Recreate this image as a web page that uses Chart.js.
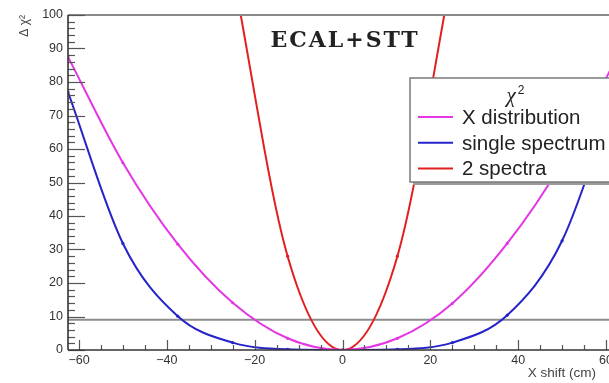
<!DOCTYPE html>
<html lang="en">
<head>
<meta charset="UTF-8">
<title>Delta chi2 vs X shift</title>
<script src="https://cdn.jsdelivr.net/npm/chart.js"></script>
<style>
  html, body { margin: 0; padding: 0; background: #fff; overflow: hidden; }
  #wrap { width: 622px; height: 383px; }
</style>
</head>
<body>
<div id="wrap"><canvas id="chi2Chart" width="622" height="383"></canvas></div>
<script>
  // values (x shift in cm, delta chi2)
  const xShift = [-62.5, -50, -37.5, -25, -12.5, 0, 12.5, 25, 37.5, 50, 62.5];
  const xDistribution = [87.5, 55.9, 31.6, 14.1, 3.5, 0, 3.5, 13.9, 31.8, 56.0, 87.5];
  const singleSpectrum = [77.0, 31.8, 10.1, 2.2, 0.2, 0, 0.2, 2.2, 10.4, 32.6, 78.0];
  const twoSpectraX = [-25, -12.5, 0, 12.5, 25];
  const twoSpectra = [113, 28.0, 0, 28.0, 113];
  const thresholdX = [-62.5, 62.5];
  const thresholdY = [9, 9];

  const xTicks = [-60, -40, -20, 0, 20, 40, 60];
  const yTicks = [0, 10, 20, 30, 40, 50, 60, 70, 80, 90, 100];
  const seriesNames = ['X distribution', 'single spectrum', '2 spectra'];
  const seriesColors = ['#e436e4', '#2424c8', '#e21f1f'];

  const toPoints = (xs, ys) => xs.map((v, i) => ({ x: v, y: ys[i] }));
  const tickFont = { family: '"Liberation Sans", Arial, sans-serif', size: 12.5 };

  // ROOT-like decorations: inward ticks, frame, legend box, titles
  const rootStyle = {
    id: 'rootStyle',
    afterDatasetsDraw(chart) {
      const { ctx, chartArea: a, scales: { x, y } } = chart;
      const line = (x1, y1, x2, y2) => { ctx.beginPath(); ctx.moveTo(x1, y1); ctx.lineTo(x2, y2); ctx.stroke(); };
      ctx.save();

      ctx.strokeStyle = '#8a8a8a';
      ctx.lineWidth = 2;
      line(a.left, a.top, a.right, a.top);

      ctx.strokeStyle = '#555';
      ctx.lineWidth = 1.2;
      for (let v = 0; v <= 100; v += 2) {
        const py = Math.round(y.getPixelForValue(v)) + 0.5;
        line(a.left, py, a.left + (v % 10 === 0 ? 17 : 7), py);
      }
      for (let v = -60; v <= 60; v += 5) {
        const px = Math.round(x.getPixelForValue(v)) + 0.5;
        line(px, a.bottom, px, a.bottom - (v % 20 === 0 ? 10 : 5));
      }

      ctx.strokeStyle = '#333';
      ctx.lineWidth = 1.6;
      line(a.left, a.top, a.left, a.bottom);
      line(a.left, a.bottom, a.right, a.bottom);

      // legend
      const bx = 410, by = 78, bw = 210, bh = 104;
      ctx.fillStyle = '#9a9a9a';
      ctx.fillRect(bx + 3, by + 3, bw, bh);
      ctx.fillStyle = '#fff';
      ctx.fillRect(bx, by, bw, bh);
      ctx.strokeStyle = '#7a7a7a';
      ctx.lineWidth = 1.5;
      ctx.strokeRect(bx, by, bw, bh);

      ctx.fillStyle = '#222';
      ctx.textBaseline = 'alphabetic';
      ctx.textAlign = 'center';
      ctx.font = 'italic 21px "Liberation Serif", serif';
      ctx.fillText('\u03c7', 511, 102);
      ctx.font = '12px "Liberation Sans", Arial, sans-serif';
      ctx.fillText('2', 521, 94);

      ctx.textAlign = 'left';
      ctx.font = '20.5px "Liberation Sans", Arial, sans-serif';
      seriesNames.forEach((name, i) => {
        const ly = 117 + i * 25.7;
        ctx.strokeStyle = seriesColors[i];
        ctx.lineWidth = 2;
        line(418, ly, 453, ly);
        ctx.fillStyle = '#222';
        ctx.fillText(name, 462, ly + 7);
      });
      ctx.restore();
    },
    afterDraw(chart) {
      const { ctx, chartArea: a } = chart;
      ctx.save();
      ctx.fillStyle = '#222';
      ctx.font = 'bold 22px "DejaVu Serif", serif';
      ctx.letterSpacing = '2px';
      ctx.textAlign = 'center';
      ctx.fillText('ECAL+STT', 345, 47);
      ctx.letterSpacing = '0px';

      ctx.fillStyle = '#444';
      ctx.font = '13.5px "Liberation Sans", Arial, sans-serif';
      ctx.textAlign = 'right';
      ctx.fillText('X shift (cm)', 596, 377);

      ctx.translate(28, a.top);
      ctx.rotate(-Math.PI / 2);
      ctx.font = '12px "Liberation Sans", Arial, sans-serif';
      ctx.fillText('\u0394 \u03c7\u00b2', 0, 0);
      ctx.restore();
    }
  };

  const curve = (label, data, color) => ({
    label: label,
    data: data,
    borderColor: color,
    backgroundColor: color,
    borderWidth: 2,
    pointRadius: 1.6,
    pointBorderWidth: 0,
    cubicInterpolationMode: 'monotone',
    fill: false,
    order: 1
  });

  const config = {
    type: 'line',
    data: {
      datasets: [
        {
          label: 'threshold',
          data: toPoints(thresholdX, thresholdY),
          borderColor: '#8c8c8c',
          borderWidth: 2,
          pointRadius: 0,
          fill: false,
          order: 10
        },
        curve(seriesNames[0], toPoints(xShift, xDistribution), seriesColors[0]),
        curve(seriesNames[1], toPoints(xShift, singleSpectrum), seriesColors[1]),
        curve(seriesNames[2], toPoints(twoSpectraX, twoSpectra), seriesColors[2])
      ]
    },
    options: {
      responsive: false,
      animation: false,
      events: [],
      layout: { autoPadding: false, padding: { top: 15, right: 5, left: 0, bottom: 0 } },
      plugins: { legend: { display: false }, tooltip: { enabled: false } },
      scales: {
        x: {
          type: 'linear',
          min: -62.5,
          max: 62.5,
          grid: { display: false, drawTicks: false },
          border: { display: false },
          afterBuildTicks: s => { s.ticks = xTicks.map(v => ({ value: v })); },
          afterFit: s => { s.height = 33; },
          ticks: {
            font: tickFont,
            color: '#333',
            padding: 3,
            maxRotation: 0,
            callback: v => String(v).replace('-', '\u2212')
          }
        },
        y: {
          type: 'linear',
          min: 0,
          max: 100,
          grid: { display: false, drawTicks: false },
          border: { display: false },
          afterBuildTicks: s => { s.ticks = yTicks.map(v => ({ value: v })); },
          afterFit: s => { s.width = 68; },
          ticks: { font: tickFont, color: '#333', padding: 5 }
        }
      }
    },
    plugins: [rootStyle]
  };

  new Chart(document.getElementById('chi2Chart').getContext('2d'), config);
</script>
</body>
</html>
